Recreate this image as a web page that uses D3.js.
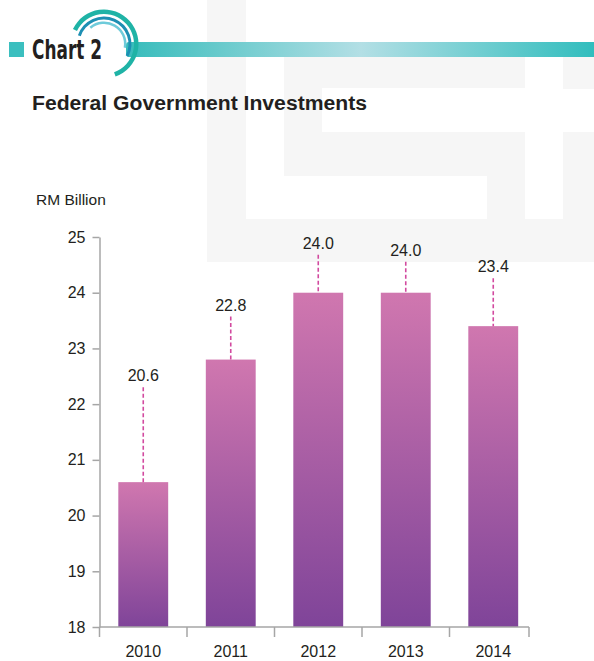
<!DOCTYPE html>
<html>
<head>
<meta charset="utf-8">
<script src="https://cdn.jsdelivr.net/npm/d3@7"></script>
<style>
  html, body { margin: 0; padding: 0; background: #fff; }
  svg { display: block; }
  text { font-family: "Liberation Sans", Arial, Helvetica, sans-serif; fill: #231f20; }
</style>
</head>
<body>
<svg id="chart" width="594" height="661"></svg>
<script>
// Federal Government Investments, RM billion
const years = ["2010", "2011", "2012", "2013", "2014"];
const investments = [20.6, 22.8, 24.0, 24.0, 23.4];
const yTicks = [18, 19, 20, 21, 22, 23, 24, 25];

// value-label baselines sit above each bar by these amounts (px)
const labelLift = [101, 49, 44, 37, 54];

const W = 594, H = 661;
const svg = d3.select("#chart");

// ---- faint background emblem ----
const bgBlocks = [
  [207, 0, 39, 262],
  [284, 57, 241, 31],
  [284, 88, 38, 44],
  [284, 132, 241, 44],
  [487, 176, 38, 43],
  [207, 219, 387, 43],
  [563, 57, 31, 32],
  [563, 132, 31, 87]
];
svg.append("g").selectAll("rect").data(bgBlocks).join("rect")
  .attr("x", d => d[0]).attr("y", d => d[1])
  .attr("width", d => d[2]).attr("height", d => d[3])
  .attr("fill", "#f6f6f6");

// ---- header ----
const defs = svg.append("defs");
const hg = defs.append("linearGradient").attr("id", "headBar")
  .attr("x1", "0%").attr("x2", "100%").attr("y1", "0%").attr("y2", "0%");
hg.append("stop").attr("offset", "0%").attr("stop-color", "#36bcbb");
hg.append("stop").attr("offset", "50%").attr("stop-color", "#b3dfe5");
hg.append("stop").attr("offset", "100%").attr("stop-color", "#30bdbd");

svg.append("rect").attr("x", 126).attr("y", 42).attr("width", 470).attr("height", 15)
  .attr("rx", 3).attr("fill", "url(#headBar)");

svg.append("rect").attr("x", 9).attr("y", 42).attr("width", 15).attr("height", 15)
  .attr("fill", "#3bbfbf");

const arcG = svg.append("g").attr("transform", "translate(104,44)");
const rings = [
  { r0: 30, r1: 34.5, a0: -1.12, a1: 2.8, c: "#1fb3a6" },
  { r0: 24.5, r1: 27.5, a0: -1.25, a1: 2.05, c: "#1d8fb3" },
  { r0: 20, r1: 22.5, a0: -0.7, a1: 1.75, c: "#6ecbda" }
];
arcG.selectAll("path").data(rings).join("path")
  .attr("d", d => d3.arc().innerRadius(d.r0).outerRadius(d.r1).startAngle(d.a0).endAngle(d.a1)())
  .attr("fill", d => d.c);

svg.append("text").attr("x", 32).attr("y", 59)
  .style("font-family", "'DejaVu Sans Condensed', 'Liberation Sans Narrow', Arial, sans-serif")
  .style("font-weight", "bold").style("font-size", "27px")
  .attr("textLength", 70).attr("lengthAdjust", "spacingAndGlyphs")
  .text("Chart 2");

svg.append("text").attr("x", 32).attr("y", 110)
  .style("font-weight", "bold").style("font-size", "20px")
  .attr("textLength", 335).attr("lengthAdjust", "spacingAndGlyphs")
  .text("Federal Government Investments");

svg.append("text").attr("x", 36).attr("y", 205)
  .style("font-size", "15.5px")
  .text("RM Billion");

// ---- scales ----
const y = d3.scaleLinear().domain([18, 25]).range([627, 237]);
const x = d3.scaleBand().domain(years).range([99.5, 537])
  .paddingInner(0.43).paddingOuter(0.215);
const step = x.step();
const axisEnd = 529;

// ---- bars ----
const bg = defs.append("linearGradient").attr("id", "barFill")
  .attr("x1", "0").attr("x2", "0").attr("y1", "0").attr("y2", "1");
bg.append("stop").attr("offset", "0%").attr("stop-color", "#d077af");
bg.append("stop").attr("offset", "100%").attr("stop-color", "#7f4499");

const data = years.map((yr, i) => ({ yr, v: investments[i], lift: labelLift[i] }));

svg.append("g").selectAll("rect").data(data).join("rect")
  .attr("x", d => x(d.yr))
  .attr("y", d => y(d.v))
  .attr("width", x.bandwidth())
  .attr("height", d => y(18) - y(d.v))
  .attr("fill", "url(#barFill)");

// ---- value labels with dashed leaders ----
const lab = svg.append("g");
lab.selectAll("line").data(data).join("line")
  .attr("x1", d => x(d.yr) + x.bandwidth() / 2)
  .attr("x2", d => x(d.yr) + x.bandwidth() / 2)
  .attr("y1", d => y(d.v) - d.lift + 6)
  .attr("y2", d => y(d.v))
  .attr("stroke", "#d24a9f").attr("stroke-width", 1.6)
  .attr("stroke-dasharray", "4,2.5");
lab.selectAll("text").data(data).join("text")
  .attr("x", d => x(d.yr) + x.bandwidth() / 2)
  .attr("y", d => y(d.v) - d.lift)
  .attr("text-anchor", "middle")
  .style("font-size", "16px")
  .text(d => d.v.toFixed(1));

// ---- y axis ----
const yAxis = svg.append("g").attr("transform", "translate(99.5,0)")
  .call(d3.axisLeft(y).tickValues(yTicks).tickFormat(d3.format("d"))
    .tickSize(7).tickPadding(7).tickSizeOuter(0));
yAxis.select(".domain").attr("stroke", "#a6a6a6").attr("stroke-width", 1.5);
yAxis.selectAll(".tick line").attr("stroke", "#a6a6a6").attr("stroke-width", 1.5);
yAxis.selectAll(".tick text").style("font-size", "16px")
  .style("font-family", "'Liberation Sans', Arial, sans-serif").attr("fill", "#231f20");

// ---- x axis ----
const xAxis = svg.append("g").attr("transform", "translate(0,627)")
  .call(d3.axisBottom(x).tickSize(0).tickPadding(19));
xAxis.select(".domain").remove();
xAxis.selectAll(".tick text").style("font-size", "16px")
  .style("font-family", "'Liberation Sans', Arial, sans-serif").attr("fill", "#231f20");
xAxis.append("line").attr("x1", 99.5).attr("x2", axisEnd).attr("y1", 0).attr("y2", 0)
  .attr("stroke", "#a6a6a6").attr("stroke-width", 1.5);
const bounds = years.map(yr => x(yr) - (step - x.bandwidth()) / 2).concat([axisEnd]);
xAxis.selectAll(".bound").data(bounds).join("line").attr("class", "bound")
  .attr("x1", d => d).attr("x2", d => d).attr("y1", 0).attr("y2", 10)
  .attr("stroke", "#a6a6a6").attr("stroke-width", 1.5);
</script>
</body>
</html>
